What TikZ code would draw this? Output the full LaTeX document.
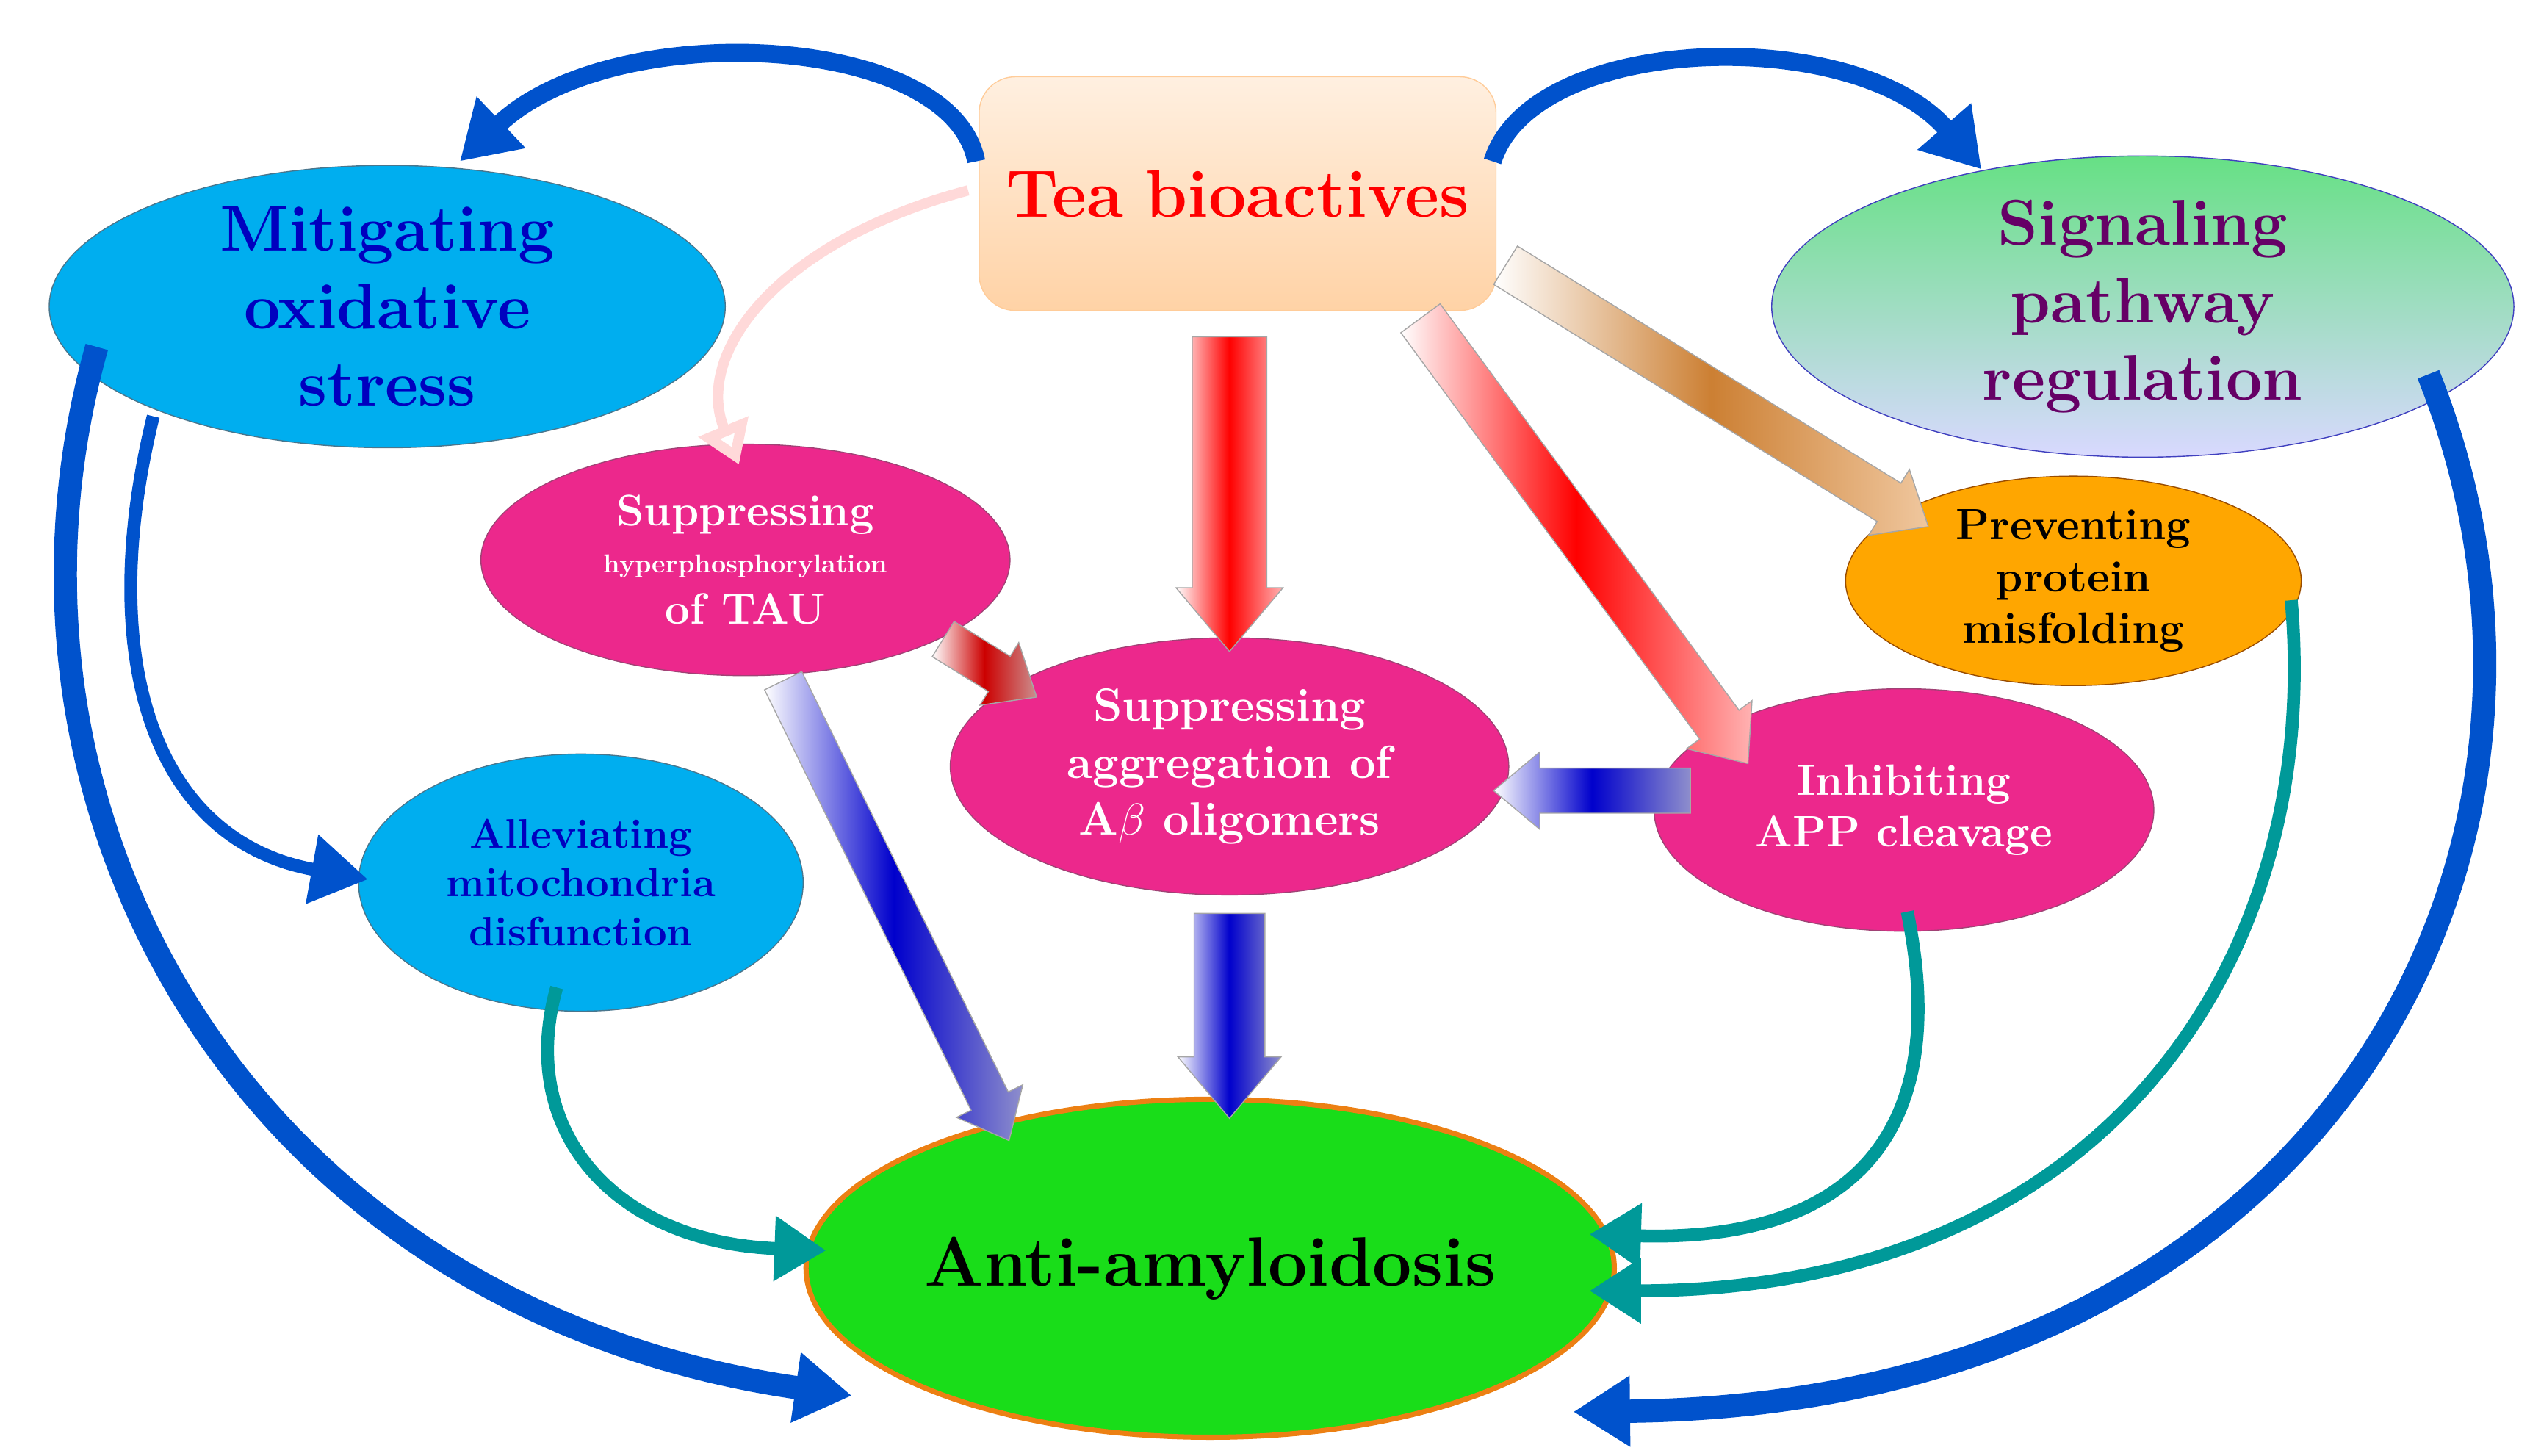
\documentclass[tikz,border=0pt]{standalone}
\usetikzlibrary{shapes.geometric,shapes.arrows,calc,arrows.meta,shadings}
\definecolor{skyb}{RGB}{0,174,239}
\definecolor{magp}{RGB}{236,40,140}
\begin{document}
\begin{tikzpicture}[x=0.021964cm,y=-0.021964cm,
 ov/.style={ellipse,inner sep=0pt,align=center,font=\bfseries},
 mag/.style={ov,fill=magp,draw=magenta!60!black,text=white},
 cyanov/.style={ov,fill=skyb,draw=cyan!50!black,text=blue!75!black},
 swb/.style={line width=7pt,draw=blue!60!cyan!80!black,-{Triangle[length=22pt,width=26pt]}},
 swt/.style={line width=5pt,draw=teal!80!cyan,-{Triangle[length=20pt,width=24pt]}}]
\useasboundingbox (0,0) rectangle (1568,902);
% nodes
\node[rounded corners=14pt,text width=6.8cm,minimum height=3.18cm,top color=orange!12,bottom color=orange!35,draw=orange!40,align=center,text=red,font=\bfseries\fontsize{26}{30}\selectfont] (tea) at (767,120) {Tea bioactives};
\node[cyanov,minimum width=9.2cm,minimum height=3.75cm,font=\bfseries\fontsize{25}{30}\selectfont] (mit) at (240,190) {Mitigating\\oxidative\\stress};
\node[ov,minimum width=10.1cm,minimum height=3.95cm,top color=green!60!teal!60,bottom color=blue!15,draw=blue!50!gray,text=violet!80!black,font=\bfseries\fontsize{25}{30}\selectfont] (sig) at (1328,190) {Signaling\\pathway\\regulation};
\node[mag,minimum width=7.2cm,minimum height=3.15cm,font=\bfseries\fontsize{17}{20}\selectfont] (tau) at (462,347) {Suppressing\\[-2pt]{\fontsize{10}{12}\selectfont hyperphosphorylation}\\of TAU};
\node[mag,minimum width=7.6cm,minimum height=3.5cm,font=\bfseries\fontsize{18}{22}\selectfont] (ab) at (762,475) {Suppressing\\aggregation of\\A$\beta$ oligomers};
\node[ov,fill=orange!70!yellow,draw=orange!60!black,minimum width=6.2cm,minimum height=2.85cm,font=\bfseries\fontsize{17}{20}\selectfont] (prev) at (1285,360) {Preventing\\protein\\misfolding};
\node[mag,minimum width=6.8cm,minimum height=3.3cm,font=\bfseries\fontsize{17}{20}\selectfont] (app) at (1180,502) {Inhibiting\\APP cleavage};
\node[cyanov,minimum width=6.05cm,minimum height=3.5cm,font=\bfseries\fontsize{16}{19}\selectfont] (mito) at (360,547) {Alleviating\\mitochondria\\disfunction};
\node[ov,fill=green!85!black!90,draw=orange!70!brown,line width=2pt,minimum width=10.5cm,minimum height=4.6cm,font=\bfseries\fontsize{27}{30}\selectfont] (anti) at (750,786) {Anti-amyloidosis};
% block arrows
\newcommand{\blk}[4]{\path let \p1=($(#2)-(#1)$), \n1={atan2(\y1,\x1)}, \n2={veclen(\x1,\y1)} in node[single arrow,draw=gray!70,minimum height=\n2,single arrow head extend=0.22cm,single arrow tip angle=80,inner sep=0pt,rotate=\n1,left color=white,right color=white!70!#3,middle color=#3] at ($(#1)!0.5!(#2)$) {\rule{0pt}{#4}};}
\coordinate (a1) at (762,195); \coordinate (b1) at (762,390);
\coordinate (a2) at (875,190); \coordinate (b2) at (1078,466);
\coordinate (a3) at (926,160); \coordinate (b3) at (1188,322);
\coordinate (a4) at (578,392); \coordinate (b4) at (636,428);
\coordinate (a5) at (482,415); \coordinate (b5) at (622,700);
\coordinate (a6) at (762,553); \coordinate (b6) at (762,680);
\coordinate (a7) at (1056,490); \coordinate (b7) at (934,490);
\blk{a1}{b1}{red}{1.0cm}
\blk{a2}{b2}{red}{0.65cm}
\blk{a3}{b3}{brown!80!orange}{0.6cm}
\blk{a4}{b4}{red!80!black}{0.55cm}
\blk{a5}{b5}{blue!80!black}{0.55cm}
\blk{a6}{b6}{blue!80!black}{0.95cm}
\blk{a7}{b7}{blue!80!black}{0.6cm}
% curved arrows
\draw[swb] (605,100) .. controls (590,20) and (380,10) .. (285,100);
\draw[swb] (925,100) .. controls (950,20) and (1150,15) .. (1228,105);
\draw[line width=4pt,draw=red!15,-{Triangle[length=16pt,width=20pt,fill=white]}] (600,118) .. controls (480,150) and (430,220) .. (458,288);
\draw[swb,line width=9pt] (60,215) .. controls (-20,500) and (150,810) .. (528,865);
\draw[swb,line width=5pt] (95,258) .. controls (60,400) and (90,520) .. (228,545);
\draw[swt] (345,612) .. controls (320,700) and (380,770) .. (512,775);
\draw[swb,line width=9pt] (1505,232) .. controls (1620,520) and (1450,870) .. (975,875);
\draw[swt] (1420,372) .. controls (1440,600) and (1300,800) .. (985,800);
\draw[swt] (1182,565) .. controls (1210,700) and (1150,770) .. (985,765);
\end{tikzpicture}
\end{document}
